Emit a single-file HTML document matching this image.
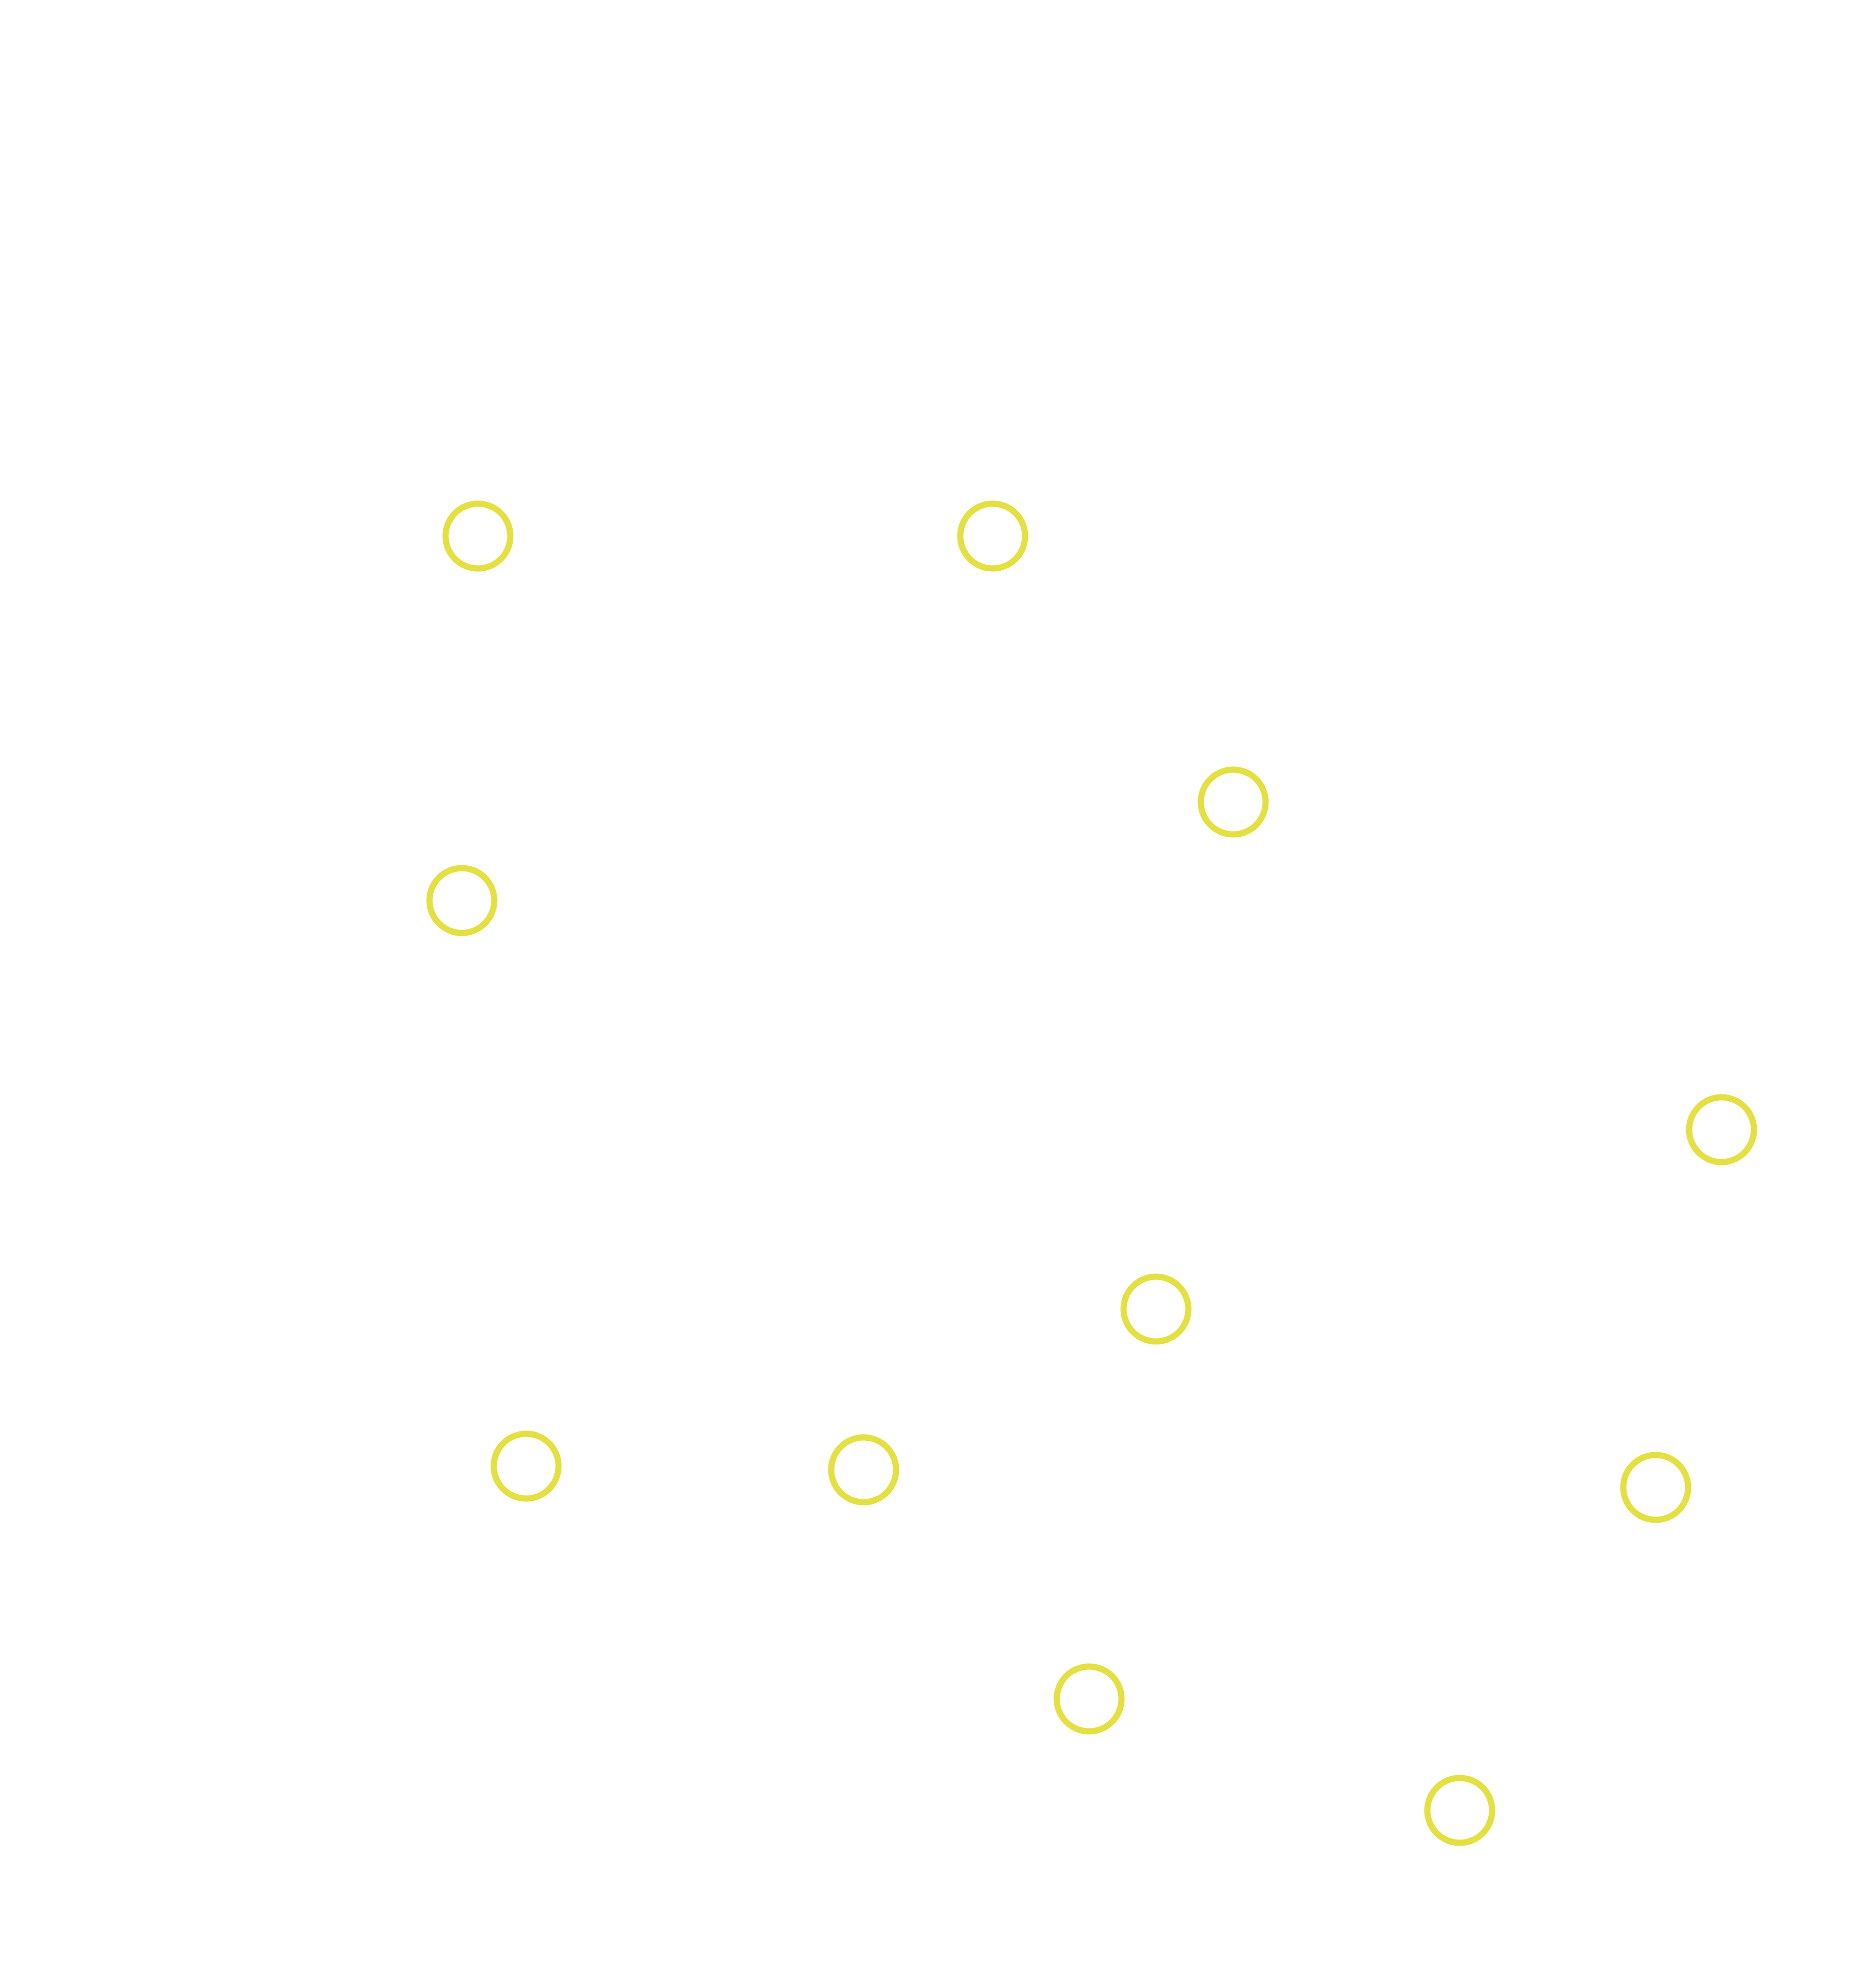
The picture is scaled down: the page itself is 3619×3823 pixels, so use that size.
<!DOCTYPE html>
<html><head><meta charset="utf-8"><style>
html,body{margin:0;padding:0;background:#fff;}
svg{display:block;}
</style></head><body>
<svg width="3619" height="3823" viewBox="0 0 3619 3823" xmlns="http://www.w3.org/2000/svg">
<rect width="3619" height="3823" fill="#fff"/>
<g fill="none" stroke="#e4e042" stroke-width="12">
<circle cx="922" cy="1034" r="62.5"/>
<circle cx="1915" cy="1034" r="62.5"/>
<circle cx="2379" cy="1547" r="62.5"/>
<circle cx="891" cy="1737" r="62.5"/>
<circle cx="3321" cy="2179" r="62.5"/>
<circle cx="2230" cy="2525" r="62.5"/>
<circle cx="1015" cy="2828" r="62.5"/>
<circle cx="1666" cy="2835" r="62.5"/>
<circle cx="3194" cy="2869" r="62.5"/>
<circle cx="2101" cy="3277" r="62.5"/>
<circle cx="2816" cy="3492" r="62.5"/>
</g>
</svg>
</body></html>
